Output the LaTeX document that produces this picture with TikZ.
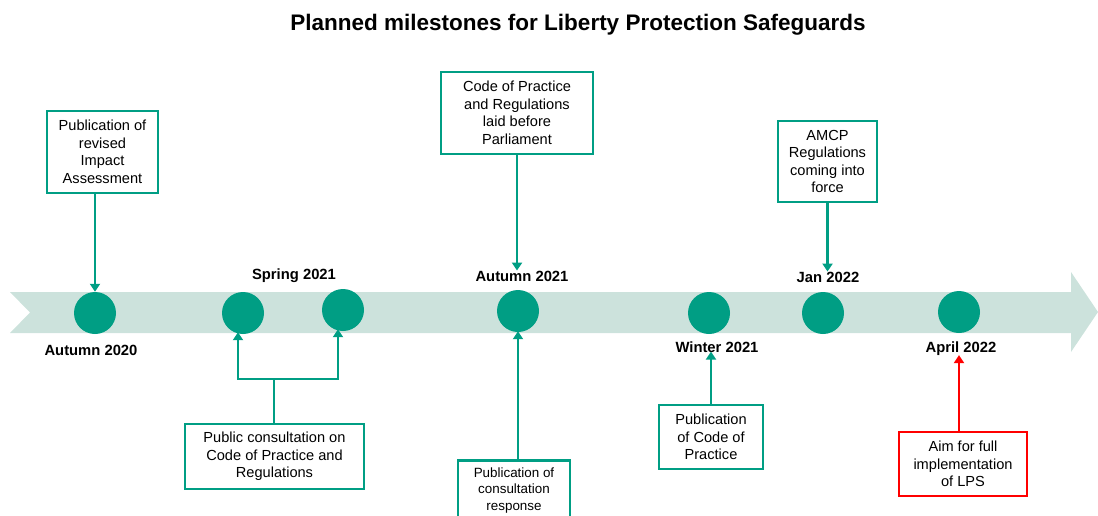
\documentclass[tikz,border=0pt]{standalone}
\usepackage{fontspec}
\setmainfont{Liberation Sans}
\usetikzlibrary{arrows.meta}
\definecolor{teal}{HTML}{009E84}
\definecolor{band}{HTML}{CCE2DC}
\definecolor{redc}{HTML}{FF0000}
\tikzset{
  ms/.style={circle,fill=teal,minimum size=42pt,inner sep=0pt},
  lab/.style={font=\fontsize{14.8}{16}\selectfont\bfseries,inner sep=1pt},
  box/.style={draw=teal,line width=2.6pt,fill=white,align=center,font=\fontsize{14.6}{17.5}\selectfont,inner sep=2pt},
  redbox/.style={box,draw=redc},
  conn/.style={draw=teal,line width=2.6pt,-{Triangle[length=8pt,width=10pt]}},
  redconn/.style={conn,draw=redc,-{Triangle[length=8pt,width=10pt,fill=redc]}},
}
\begin{document}
\begin{tikzpicture}[x=1pt,y=-1pt]
\useasboundingbox (0,0) rectangle (1098,515);
\clip (0,0) rectangle (1098,515);
% band arrow
\fill[band] (10,292) -- (1071,292) -- (1071,272) -- (1098,312) -- (1071,352) -- (1071,333) -- (10,333) -- (30,312.5) -- cycle;
% title
\node[font=\fontsize{22.5}{26}\selectfont\bfseries] (title) at (578,25) {Planned milestones for Liberty Protection Safeguards};
% milestones
\node[ms] (c1) at (95,313) {};
\node[ms] (c2) at (243,313) {};
\node[ms] (c3) at (343,310) {};
\node[ms] (c4) at (518,311) {};
\node[ms] (c5) at (709,313) {};
\node[ms] (c6) at (823,313) {};
\node[ms] (c7) at (959,312) {};
% labels
\node[lab] (l1) at (91,350) {Autumn 2020};
\node[lab] (l2) at (294,276) {Spring 2021};
\node[lab] (l3) at (522,276) {Autumn 2021};
\node[lab] (l4) at (717,347) {Winter 2021};
\node[lab] (l5) at (828,277) {Jan 2022};
\node[lab] (l6) at (961,349) {April 2022};
% boxes
\node[box,minimum width=111pt,minimum height=82pt] (b1) at (102.5,152) {Publication of\\revised\\Impact\\Assessment};
\node[box,minimum width=152pt,minimum height=82pt] (b2) at (517,113) {Code of Practice\\and Regulations\\laid before\\Parliament};
\node[box,minimum width=99pt,minimum height=81pt] (b3) at (827.5,161.5) {AMCP\\Regulations\\coming into\\force};
\node[box,minimum width=179pt,minimum height=65pt] (b4) at (274.5,456.5) {Public consultation on\\Code of Practice and\\Regulations};
\node[box,font=\fontsize{13.4}{16.5}\selectfont,minimum width=112pt,minimum height=60pt,anchor=north] (b5) at (514,459) {Publication of\\consultation\\response};
\node[box,minimum width=104pt,minimum height=64pt] (b6) at (711,437) {Publication\\of Code of\\Practice};
\node[redbox,minimum width=128pt,minimum height=64pt] (b7) at (963,464) {Aim for full\\implementation\\of LPS};
% connectors
\draw[conn] (b1.south -| c1) -- (c1.north);
\draw[conn] (b2.south) -- ([yshift=-1pt]l3.north -| b2.south);
\draw[conn] (b3.south) -- ([yshift=-1pt]l5.north -| b3.south);
\coordinate (j) at (274,379);
\coordinate (jl) at (238,379);
\coordinate (jr) at (338,379);
\draw[draw=teal,line width=2.6pt] (b4.north -| j) -- (j);
\draw[conn] (j) -- (jl) -- ([yshift=2pt]c2.south -| jl);
\draw[conn] (j) -- (jr) -- ([yshift=2pt]c3.south -| jr);
\draw[conn] (b5.north -| c4) -- ([yshift=1pt]c4.south);
\draw[conn] (b6.north) -- ([yshift=2pt]l4.south -| b6.north);
\draw[redconn] (b7.north -| c7) -- ([yshift=2pt]l6.south -| c7);
\end{tikzpicture}
\end{document}
